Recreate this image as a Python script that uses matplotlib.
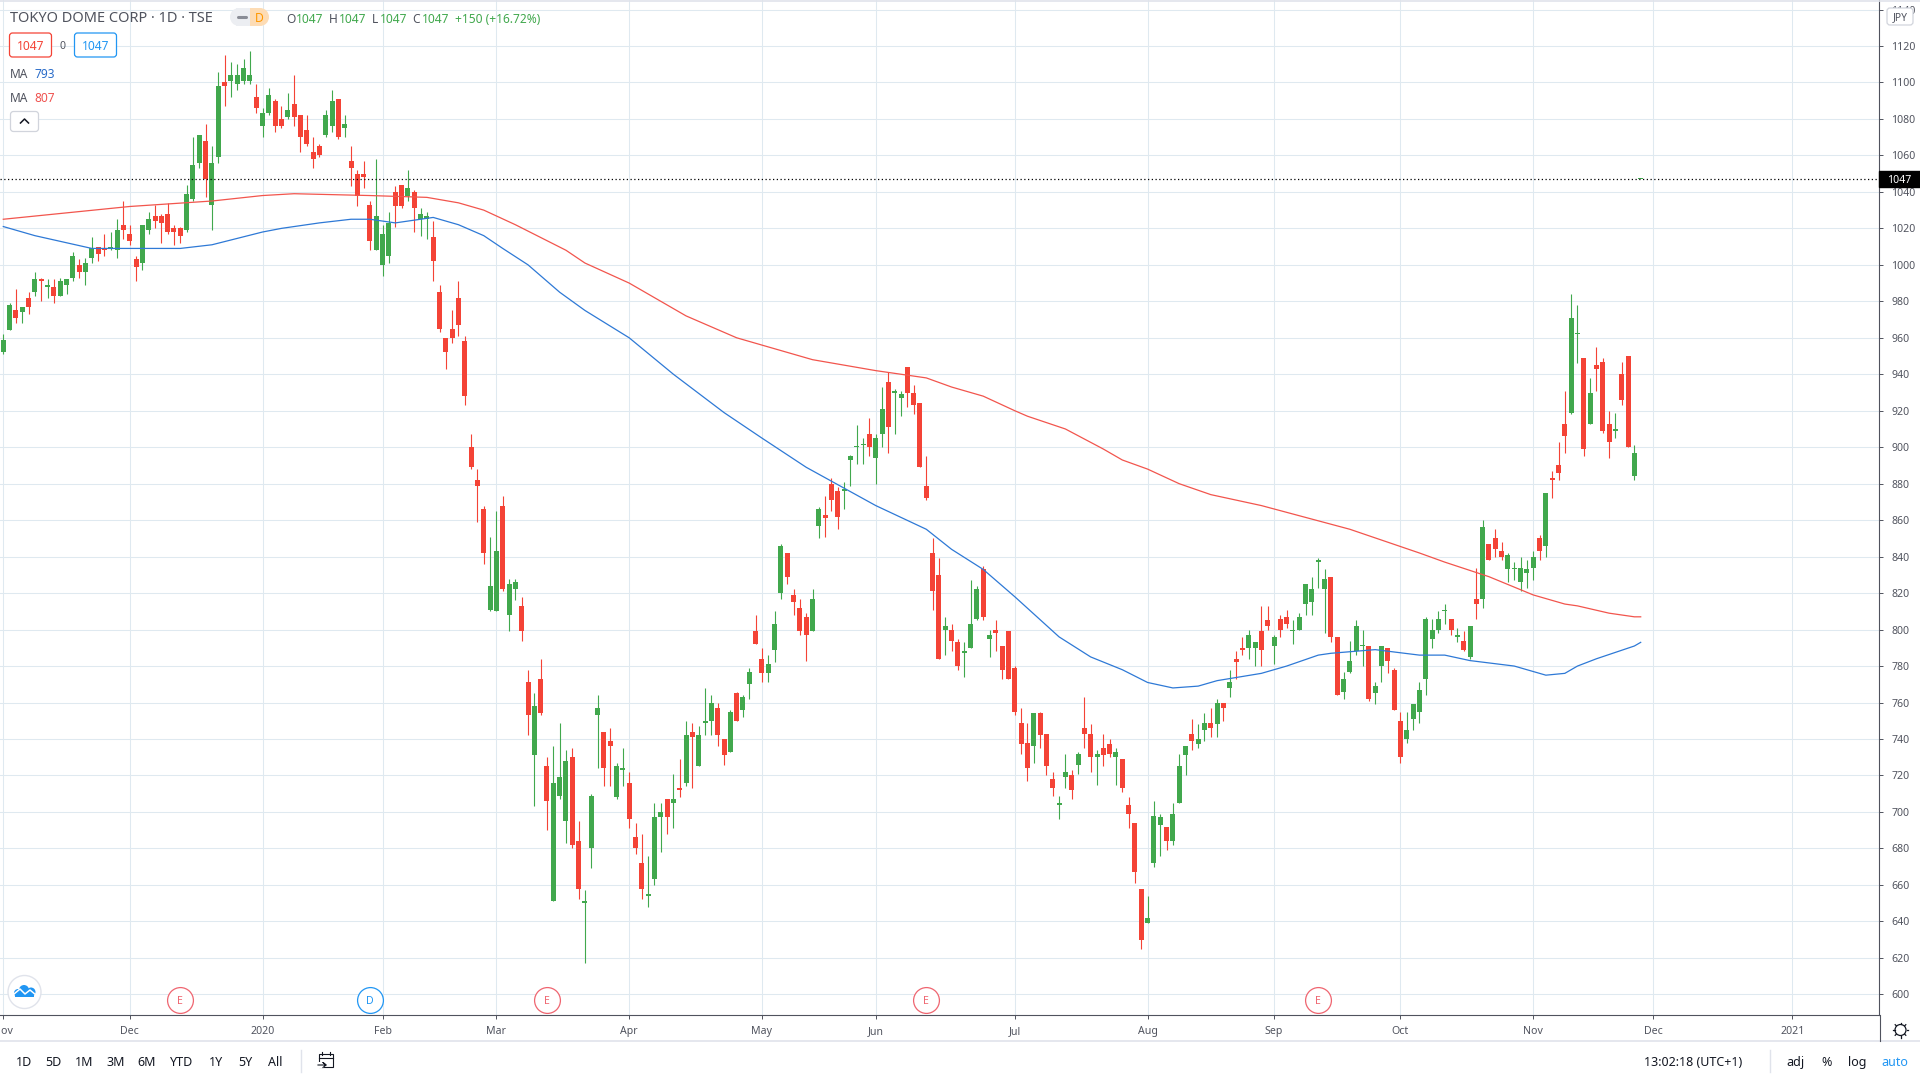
import matplotlib
matplotlib.use('Agg')
import matplotlib.pyplot as plt
from matplotlib.patches import Rectangle, FancyBboxPatch, Circle, Wedge

opens = [
952,964,975,974,982,985,992,988,988,983,
989,993,1000,996,1004,1010,1009,1009,1008,1022,
1017,1003,1001,1019,1027,1027,1028,1020,1020,1019,
1036,1056,1068,1033,1059,1100,1101,1099,1101,1101,
1092,1076,1083,1090,1080,1081,1088,1082,1074,1062,
1065,1071,1076,1091,1075,1057,1050,1050,1033,1008,
1000,1005,1040,1044,1038,1040,1025,1025,1015,985,
960,965,982,958,900,882,866,811,810,868,
808,822,813,771,731,773,725,651,709,695,
730,684,650,680,753,744,739,708,723,716,
686,672,654,663,697,707,705,713,716,744,
725,749,750,757,740,733,765,756,770,799,
784,776,789,820,842,819,812,807,799,857,
863,880,876,876,893,900,901,907,894,907,
936,930,927,944,930,924,879,842,830,800,
800,793,787,790,806,833,795,800,791,799,
779,749,738,736,754,743,718,704,719,720,
726,746,743,730,735,737,730,729,704,694,
658,639,672,693,692,684,705,731,743,737,
745,749,748,760,768,784,790,790,790,799,
805,791,806,807,799,800,814,815,837,822,
829,796,766,777,788,791,791,765,780,790,
778,750,740,751,755,773,795,800,810,806,
796,794,785,817,817,847,850,843,833,833,
826,831,834,850,846,883,890,913,919,962,
949,913,945,947,913,909,940,950,884,1047,
]

highs = [
962,979,987,977,985,996,993,992,992,993,
992,1007,1003,1004,1015,1010,1017,1018,1025,1035,
1022,1005,1022,1029,1033,1028,1034,1022,1021,1044,
1070,1071,1077,1065,1106,1115,1111,1110,1113,1117,
1099,1086,1097,1091,1087,1094,1104,1082,1082,1070,
1066,1085,1096,1091,1082,1065,1052,1057,1035,1058,
1022,1029,1043,1044,1052,1041,1031,1029,1024,989,
960,975,991,961,907,888,868,851,865,873,
828,828,818,778,765,784,730,736,749,734,
735,695,657,710,764,744,746,727,735,722,
694,688,676,705,705,707,721,729,750,749,
747,768,764,760,740,756,766,764,779,808,
790,786,810,847,842,822,817,809,822,867,
873,883,878,881,896,912,905,916,907,933,
941,932,931,944,934,924,895,850,839,807,
803,795,793,827,824,835,800,805,791,799,
780,757,749,754,755,743,722,709,732,723,
733,763,748,734,743,740,735,729,708,694,
658,654,706,699,692,705,732,736,751,748,
754,757,762,760,778,788,796,800,793,813,
813,797,808,811,805,809,825,829,839,833,
829,796,777,794,805,800,791,771,791,790,
779,755,755,759,771,807,806,810,814,806,
801,799,802,834,860,847,855,848,842,837,
840,838,843,852,875,887,903,931,984,978,
949,938,955,949,920,919,947,950,901,1047,
]

lows = [
951,964,968,968,973,983,980,982,979,983,
984,991,993,989,1001,1002,1005,1008,1004,1014,
1011,991,997,1017,1020,1012,1017,1011,1012,1018,
1035,1053,1037,1019,1056,1087,1092,1096,1099,1099,
1083,1070,1082,1073,1075,1080,1076,1062,1065,1053,
1059,1070,1073,1069,1070,1043,1032,1042,1008,1008,
994,1001,1021,1031,1035,1018,1016,1014,991,963,
943,957,961,923,888,859,836,810,810,821,
799,816,794,742,703,753,690,651,707,683,
680,652,617,669,724,714,714,707,714,691,
677,652,648,660,678,688,691,708,714,713,
725,742,742,736,726,733,750,752,762,792,
771,771,782,817,825,808,797,783,799,850,
851,865,855,866,879,891,891,895,880,900,
897,907,917,922,918,889,871,811,784,786,
788,778,774,790,805,805,785,788,773,773,
753,732,717,727,735,720,709,696,713,707,
721,735,722,715,725,730,715,711,691,661,
625,639,670,676,679,682,705,720,734,735,
739,741,741,750,763,773,786,784,780,780,
800,781,796,801,792,800,808,808,823,798,
793,764,762,776,786,780,761,759,771,776,
756,727,738,745,749,764,790,798,803,797,
793,788,784,806,812,838,840,838,826,827,
821,823,827,838,840,872,882,897,918,946,
895,913,931,908,894,905,923,900,882,1047,
]

closes = [
959,978,971,977,977,992,991,989,983,991,
992,1005,996,1001,1009,1006,1008,1010,1019,1019,
1013,999,1022,1025,1024,1023,1018,1018,1016,1039,
1055,1071,1047,1056,1098,1098,1104,1104,1108,1104,
1086,1083,1093,1076,1076,1085,1081,1070,1066,1058,
1060,1082,1090,1070,1077,1053,1038,1048,1013,1027,
1017,1023,1032,1032,1042,1031,1028,1027,1002,965,
952,960,967,928,889,879,842,824,843,822,
825,826,799,753,758,754,706,716,719,728,
682,658,651,709,757,724,736,725,724,696,
680,658,655,697,700,697,707,712,742,741,
742,750,760,742,731,755,750,763,777,792,
776,781,803,846,829,815,799,797,817,866,
861,871,862,877,895,900,902,900,905,921,
911,931,929,930,923,889,872,821,784,802,
794,780,788,803,822,807,797,798,778,773,
755,737,724,754,742,725,713,705,722,712,
732,743,730,732,731,732,733,713,699,667,
630,642,698,697,684,699,725,736,739,740,
749,746,760,757,771,782,789,797,793,789,
802,796,800,803,800,807,825,822,838,828,
796,764,773,783,802,791,762,769,791,783,
756,730,745,759,767,806,800,806,811,800,
797,789,802,814,856,838,844,840,841,834,
834,833,840,843,875,882,886,906,971,962,
899,930,943,909,903,910,926,900,897,1047,
]

# moving averages read at a few bars
ma_red_x = [0,20,33,41,46,58,67,72,76,81,89,92,99,108,116,123,128,138,146,150,155,160,162,168,174,177,181,186,191,199,213,224,228,235,242,247,249,254,258,259]
ma_red_y = [1025,1032,1035,1038,1039,1038,1037,1034,1030,1022,1008,1001,990,972,960,953,948,942,938,933,928,920,917,910,899,893,888,880,874,868,855,842,837,829,819,814,813,809,807,807]
ma_blue_x = [0,5,14,28,33,41,44,50,55,58,62,68,72,76,79,83,88,92,99,106,114,120,127,138,146,150,155,160,167,172,177,181,185,189,192,199,201,203,208,210,217,224,228,232,239,244,247,249,252,258,259]
ma_blue_y = [1021,1016,1009,1009,1011,1018,1020,1023,1025,1025,1023,1026,1022,1016,1009,1000,985,975,960,940,919,905,889,868,855,844,833,818,796,785,778,771,768,769,772,776,778,780,786,787,789,786,786,783,780,775,776,780,784,791,793]

month_idx = [0,20,41,60,78,99,120,138,160,181,201,221,242,261,283]
month_labels = ['Nov','Dec','2020','Feb','Mar','Apr','May','Jun','Jul','Aug','Sep','Oct','Nov','Dec','2021']
price_ticks = list(range(600, 1141, 20))
last_price = 1047

# earnings / dividend badges
event_idx = [28,58,86,146,208]
event_labels = ['E','D','E','E','E']

range_labels = ['1D','5D','1M','3M','6M','YTD','1Y','5Y','All']
range_pos = [24,53,84,116,147,182,216,245,275]

GREEN = '#41a84d'
RED = '#f44336'
BLUE = '#2196f3'
TEXT = '#50535e'
GRID = '#dfe9f0'
FONT = 'Noto Sans'

plt.rcParams['font.family'] = FONT

W, H = 1920, 1080
fig = plt.figure(figsize=(W/100, H/100), dpi=100, facecolor='white')

AX_R, AX_B = 1879, 1015
ax = fig.add_axes([0, (H-AX_B)/H, AX_R/W, AX_B/H])
X0, DX = 3.3, 6.322
Y0, DY = 46.0, 1.8237
ax.set_xlim(-X0/DX, (AX_R-X0)/DX)
ax.set_ylim(1120-(AX_B-Y0)/DY, 1120+Y0/DY)

for s in ['top', 'left']:
    ax.spines[s].set_visible(False)
for s in ['right', 'bottom']:
    ax.spines[s].set_color(TEXT)
    ax.spines[s].set_linewidth(0.8)

ax.yaxis.tick_right()
ax.set_yticks(price_ticks)
ax.set_yticklabels([str(p) for p in price_ticks], fontsize=7.6, color=TEXT)
ax.set_xticks(month_idx)
ax.set_xticklabels(month_labels, fontsize=7.6, color=TEXT)
for lab in ax.get_xticklabels():
    if lab.get_text().startswith('20'):
        lab.set_fontweight('semibold')
ax.tick_params(axis='y', length=3, width=0.7, color=TEXT, pad=6)
ax.tick_params(axis='x', length=3, width=0.7, color=TEXT, pad=5)
ax.grid(True, color=GRID, linewidth=0.75)
ax.set_axisbelow(True)

# candles
xs = list(range(len(opens)))
colors = [GREEN if c >= o else RED for o, c in zip(opens, closes)]
ax.vlines(xs, lows, highs, colors=colors, linewidth=0.8, zorder=3)
bottoms = [min(o, c) for o, c in zip(opens, closes)]
heights = [max(abs(c-o), 0.6) for o, c in zip(opens, closes)]
ax.bar(xs, heights, bottom=bottoms, width=0.79, color=colors, linewidth=0, zorder=4)

ax.plot(ma_red_x, ma_red_y, color='#f2554d', linewidth=0.9, zorder=5)
ax.plot(ma_blue_x, ma_blue_y, color='#2e79d6', linewidth=0.9, zorder=5)

# last price line and tag
ax.axhline(last_price, color='black', linewidth=0.9, linestyle=(0, (1, 2)), zorder=6)
tr = ax.get_yaxis_transform()
ax.add_patch(Rectangle((1.0, last_price-4.3), 41/AX_R, 8.6, transform=tr, color='black', clip_on=False, zorder=8))
ax.text(1+20/AX_R, last_price, str(last_price), transform=tr, color='white', fontsize=7.6,
        ha='center', va='center_baseline', zorder=9, clip_on=False)

# event badges
ev_y = 1120-(999.7-Y0)/DY
for i, lab in zip(event_idx, event_labels):
    c = BLUE if lab == 'D' else '#ef6570'
    ax.plot([i], [ev_y], 'o', ms=18.6, mfc='white', mec=c, mew=0.9, zorder=7, clip_on=False)
    ax.text(i, ev_y, lab, color=c, fontsize=7.6, fontweight='bold', ha='center', va='center_baseline', zorder=8)

# overlay in pixels for the toolbar bits
ov = fig.add_axes([0, 0, 1, 1], facecolor='none')
ov.set_xlim(0, W)
ov.set_ylim(H, 0)
ov.axis('off')


def txt(x, y, s, size=8.5, color=TEXT, ha='left', **kw):
    ov.text(x, y, s, fontsize=size, color=color, ha=ha, va='center_baseline', **kw)


def box(x0, y0, x1, y1, ec, fc='white', lw=0.9, r=3):
    ov.add_patch(FancyBboxPatch((x0+r, y0+r), x1-x0-2*r, y1-y0-2*r,
                                boxstyle='round,pad=%d,rounding_size=%d' % (r, r),
                                ec=ec, fc=fc, lw=lw))


ov.plot([0, W], [0.5, 0.5], color='#e0e3eb', lw=1.2)
ov.plot([0, W], [1041, 1041], color='#e0e3eb', lw=1.2)
ov.plot([AX_R+0.5, AX_R+0.5], [AX_B, 1041], color=TEXT, lw=0.8)

# header
txt(10, 17, 'TOKYO DOME CORP · 1D · TSE', size=10.5)
ov.add_patch(Rectangle((236, 8), 14, 18, fc='#eceef2', ec='none'))
ov.add_patch(Wedge((239, 17), 9, 90, 270, fc='#eceef2', ec='none'))
ov.add_patch(Rectangle((250, 8), 10, 18, fc='#fddcb5', ec='none'))
ov.add_patch(Wedge((260, 17), 9, -90, 90, fc='#fddcb5', ec='none'))
ov.plot([238, 246], [17, 17], color='#8a8d96', lw=2.2, solid_capstyle='round')
txt(259, 17, 'D', size=8.8, color='#ff9800', ha='center', fontweight='medium')

for x, s in [(286, 'O'), (329, 'H'), (372, 'L'), (412, 'C')]:
    txt(x, 18, s, size=8.6)
for x in [296, 339, 380, 422]:
    txt(x, 18, '1047', size=8.6, color=GREEN)
txt(455, 18, '+150 (+16.72%)', size=8.6, color=GREEN)

box(9.5, 33, 51.5, 57, RED)
txt(30.5, 45, '1047', size=8.6, color=RED, ha='center')
txt(63, 45, '0', size=7.6, ha='center')
box(74.5, 33, 116.5, 57, BLUE)
txt(95.5, 45, '1047', size=8.6, color=BLUE, ha='center')

txt(10, 73, 'MA', size=8.6)
txt(34.5, 73, '793', size=8.6, color='#2a6cc9')
txt(10, 97, 'MA', size=8.6)
txt(34.5, 97, '807', size=8.6, color='#ef5350')
box(10.5, 111.5, 38.5, 131.5, '#d1d4dc')
ov.plot([20.5, 24.5, 28.5], [123, 119, 123], color='#131722', lw=1.1)

# JPY box
box(1887, 8, 1913, 25, '#d1d4dc')
txt(1900, 16.5, 'JPY', size=7.4, ha='center')

# logo
ov.add_patch(Circle((24.5, 992), 16.5, fc='white', ec='#e0e3eb', lw=1.0))
for cx, cy, r in [(18, 993, 4), (24, 990, 5), (31, 992, 4.5)]:
    ov.add_patch(Circle((cx, cy), r, fc=BLUE, ec='none'))
ov.add_patch(Rectangle((15, 992), 19, 5, fc=BLUE, ec='none'))
ov.plot([14, 20, 25, 30, 36], [994, 989, 994, 990, 995], color='white', lw=1.1)

# bottom toolbar
for x, s in zip(range_pos, range_labels):
    txt(x, 1061, s, size=9, ha='center', color='#131722')
ov.plot([300.5, 300.5], [1050, 1072], color='#e0e3eb', lw=1)
ov.add_patch(Rectangle((319, 1054), 14, 13, fc='none', ec='#131722', lw=0.8))
ov.add_patch(Rectangle((317, 1062), 7, 6, fc='white', ec='none'))
ov.plot([319, 333], [1058, 1058], color='#131722', lw=0.8)
ov.plot([322, 322], [1052, 1055], color='#131722', lw=0.8)
ov.plot([330, 330], [1052, 1055], color='#131722', lw=0.8)
ov.plot([318, 326, 323, 326, 323], [1065, 1065, 1062.5, 1065, 1067.5], color='#131722', lw=0.8)

txt(1644, 1061, '13:02:18 (UTC+1)', size=9, color='#131722')
ov.plot([1769.5, 1769.5], [1050, 1072], color='#e0e3eb', lw=1)
txt(1786, 1061, 'adj', size=9, color='#131722')
txt(1821, 1061, '%', size=9, color='#131722')
txt(1848, 1061, 'log', size=9, color='#131722')
txt(1881, 1061, 'auto', size=9, color=BLUE)

# settings gear
ov.add_patch(Circle((1900.5, 1030), 5.5, fc='white', ec='#131722', lw=0.9))
for dx, dy in [(0, -7.5), (0, 7.5), (-7.5, 0), (7.5, 0), (5.3, -5.3), (-5.3, -5.3), (5.3, 5.3), (-5.3, 5.3)]:
    ov.plot([1900.5+dx*0.8, 1900.5+dx], [1030+dy*0.8, 1030+dy], color='#131722', lw=0.9)

fig.savefig('out.png', dpi=100, facecolor='white')
